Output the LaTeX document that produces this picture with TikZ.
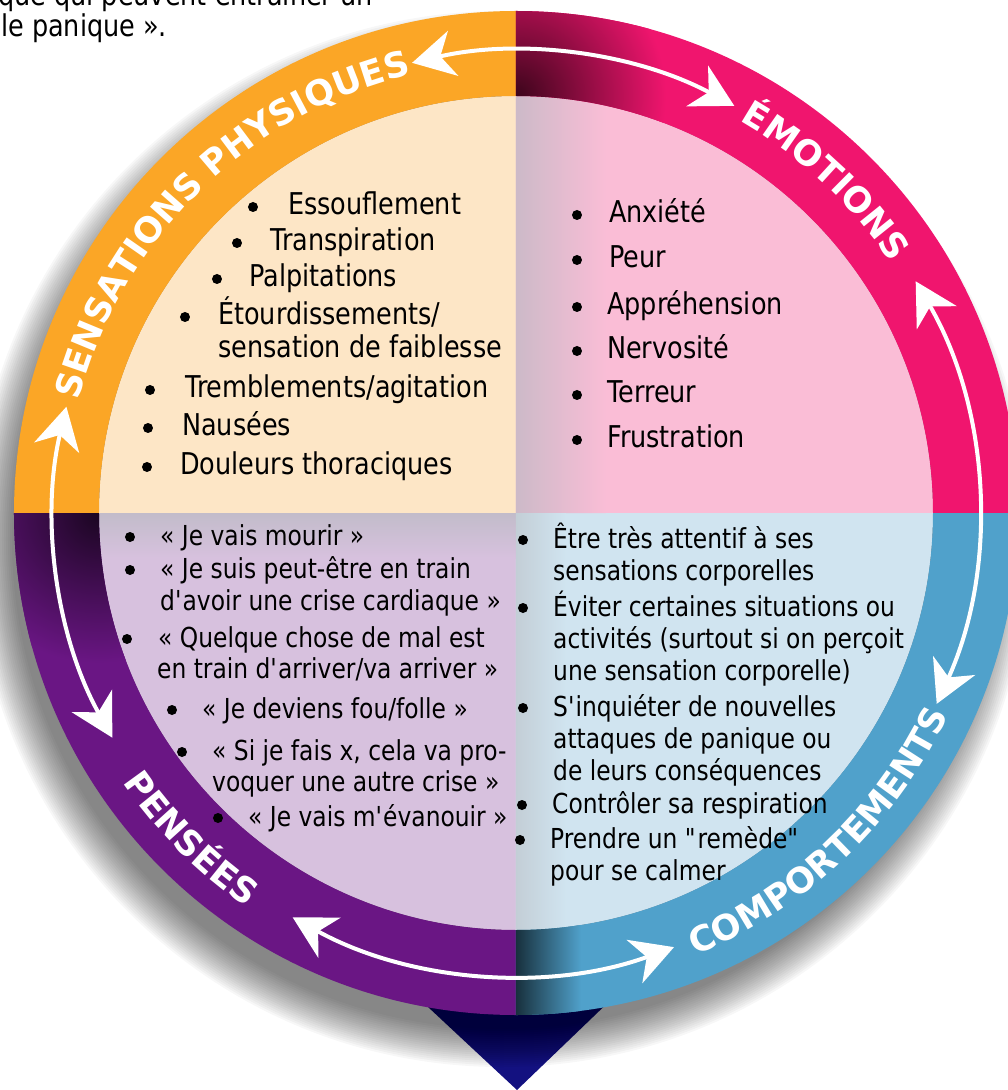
\documentclass[tikz,border=0pt]{standalone}
\usepackage{fontspec}
\setmainfont{DejaVu Sans}[FakeStretch=0.85]
\newfontfamily\ringfont{DejaVu Sans}
\usetikzlibrary{arrows.meta, decorations.text}

\definecolor{ringS}{RGB}{251,166,38}
\definecolor{fillS}{RGB}{253,230,198}
\definecolor{ringE}{RGB}{240,21,110}
\definecolor{fillE}{RGB}{250,189,214}
\definecolor{ringP}{RGB}{106,22,132}
\definecolor{fillP}{RGB}{215,193,222}
\definecolor{ringC}{RGB}{80,161,203}
\definecolor{fillC}{RGB}{208,228,240}
\definecolor{navy}{RGB}{19,17,128}
\definecolor{shE}{RGB}{204,186,200}
\definecolor{shP}{RGB}{194,188,202}
\definecolor{shC}{RGB}{195,206,214}

% one piece of the ring, and its clip
\newcommand{\anneau}[3]{\fill[#1] (#2:502pt) arc[start angle=#2, end angle=#3, radius=502pt] -- (#3:417pt) arc[start angle=#3, end angle=#2, radius=417pt] -- cycle;}
\newcommand{\clipanneau}[2]{\clip (#1:502pt) arc[start angle=#1, end angle=#2, radius=502pt] -- (#2:417pt) arc[start angle=#2, end angle=#1, radius=417pt] -- cycle;}
% one quarter of the inner disc, and its clip
\newcommand{\quartier}[3]{\fill[#1] (0,0) -- (#2:417pt) arc[start angle=#2, end angle=#3, radius=417pt] -- cycle;}
\newcommand{\clipquartier}[2]{\clip (0,0) -- (#1:417pt) arc[start angle=#1, end angle=#2, radius=417pt] -- cycle;}
% bullet and first line of an entry
\newcommand{\puce}[6][bigtxt]{\fill (#3,#4) circle (5pt); \node[#1] (#2) at (#5,#4+8) {#6};}
\newcommand{\ap}{\textquotesingle}
\newcommand{\dq}{\textquotedbl}
\newcommand{\ringfmt}{\ringfont\bfseries\fontsize{35pt}{35pt}\selectfont}

\tikzset{
  bigtxt/.style={inner sep=0pt, anchor=base west, font=\fontsize{30pt}{36pt}\selectfont},
  smalltxt/.style={inner sep=0pt, anchor=base west, font=\fontsize{27.5pt}{33pt}\selectfont},
  fleche/.style={draw=white, line width=4pt, >={Stealth[length=42pt, width=46pt, inset=13pt]}, <->},
}

\begin{document}
\begin{tikzpicture}[x=1pt, y=1pt]
\useasboundingbox (-516,-577) rectangle (492,513);

% pointer under the wheel
\fill[navy] (-103,-480) -- (102,-480) -- (1,-577) -- cycle;

% soft shadow towards the lower left
\foreach \k in {0,...,19}
  \fill[black, opacity=0.03] (-14,-26) circle[radius={490pt+2pt*\k}];

% inner quarters
\quartier{fillS}{90}{180}
\quartier{fillE}{0}{90}
\quartier{fillP}{180}{270}
\quartier{fillC}{270}{360}
\begin{scope}
  \clipquartier{0}{90}
  \shade[left color=shE, right color=fillE] (0,0) rectangle (90,417);
\end{scope}
\begin{scope}
  \clipquartier{180}{270}
  \shade[top color=shP, bottom color=fillP] (-417,0) rectangle (0,-45);
\end{scope}
\begin{scope}
  \clipquartier{270}{360}
  \shade[left color=shC, right color=fillC] (0,0) rectangle (50,-417);
\end{scope}

% the ring
\anneau{ringS}{90}{180}
\anneau{ringE}{0}{90}
\anneau{ringP}{180}{270}
\anneau{ringC}{270}{360}
\begin{scope}
  \clipanneau{0}{90}
  \shade[inner color=ringE!25!black, outer color=ringE] (0,417) circle (150pt);
\end{scope}
\begin{scope}
  \clipanneau{180}{270}
  \shade[inner color=ringP!25!black, outer color=ringP] (-417,0) circle (150pt);
\end{scope}
\begin{scope}
  \clipanneau{270}{360}
  \shade[left color=ringC!30!black, right color=ringC] (0,-505) rectangle (65,-400);
\end{scope}

% entries, in page pixels
\begin{scope}[shift={(-516,513)}, yscale=-1]
  \node[bigtxt, anchor=base east] (intro1) at (373,6) {que qui peuvent entraîner un};
  \node[bigtxt] (intro2) at (1,37) {le panique~».};

  % sensations physiques
  \puce{sp1}{253}{207}{288}{Essouflement}
  \puce{sp2}{237}{243}{270}{Transpiration}
  \puce{sp3}{217}{279}{249}{Palpitations}
  \puce{sp4}{185}{317}{218}{Étourdissements/}
  \node[bigtxt] (sp4b) at (218,358) {sensation de faiblesse};
  \puce{sp5}{150}{390}{185}{Tremblements/agitation}
  \puce{sp6}{148}{428}{182}{Nausées}
  \puce{sp7}{147}{467}{180}{Douleurs thoraciques}

  % emotions
  \puce{em1}{577}{215}{609}{Anxiété}
  \puce{em2}{577}{260}{609}{Peur}
  \puce{em3}{577}{307}{607}{Appréhension}
  \puce{em4}{577}{351}{607}{Nervosité}
  \puce{em5}{577}{395}{607}{Terreur}
  \puce{em6}{577}{440}{607}{Frustration}

  % pensees
  \puce[smalltxt]{pe1}{130}{537}{160}{«~Je vais mourir~»}
  \puce[smalltxt]{pe2}{130}{570}{160}{«~Je suis peut-être en train}
  \node[smalltxt] (pe2b) at (160,610) {d\ap avoir une crise cardiaque~»};
  \puce[smalltxt]{pe3}{127}{639}{158}{«~Quelque chose de mal est}
  \node[smalltxt] (pe3b) at (157,678) {en train d\ap arriver/va arriver~»};
  \puce[smalltxt]{pe4}{172}{710}{202}{«~Je deviens fou/folle~»}
  \puce[smalltxt]{pe5}{182}{752}{212}{«~Si je fais x, cela va pro-}
  \node[smalltxt] (pe5b) at (212,791) {voquer une autre crise~»};
  \puce[smalltxt]{pe6}{218}{818}{248}{«~Je vais m\ap évanouir~»}

  % comportements
  \puce[smalltxt]{co1}{523}{540}{553}{Être très attentif à ses}
  \node[smalltxt] (co1b) at (553,580) {sensations corporelles};
  \puce[smalltxt]{co2}{523}{608}{553}{Éviter certaines situations ou}
  \node[smalltxt] (co2b) at (553,648) {activités (surtout si on perçoit};
  \node[smalltxt] (co2c) at (553,680) {une sensation corporelle)};
  \puce[smalltxt]{co3}{523}{708}{553}{S\ap inquiéter de nouvelles}
  \node[smalltxt] (co3b) at (553,748) {attaques de panique ou};
  \node[smalltxt] (co3c) at (553,780) {de leurs conséquences};
  \puce[smalltxt]{co4}{522}{805}{552}{Contrôler sa respiration}
  \puce[smalltxt]{co5}{520}{840}{550}{Prendre un \dq remède\dq}
  \node[smalltxt] (co5b) at (550,880) {pour se calmer};
\end{scope}

% arrows between the sectors
\draw[fleche] (61.8:462pt) arc[start angle=61.8, end angle=103, radius=462pt];
\draw[fleche] (30.1:462pt) arc[start angle=30.1, end angle=-24.4, radius=462pt];
\draw[fleche] (166.7:462pt) arc[start angle=166.7, end angle=209.1, radius=462pt];
\draw[fleche] (241.1:462pt) arc[start angle=241.1, end angle=290, radius=462pt];

% sector titles
\path[decorate, decoration={text along path, text align=center, text color=white,
  text={|\ringfmt|SENSATIONS PHYSIQUES}}] (180:451pt) arc[start angle=180, end angle=89, radius=451pt];
\path[decorate, decoration={text along path, text align=center, text color=white,
  text={|\ringfmt|ÉMOTIONS}}] (92:451pt) arc[start angle=92, end angle=2, radius=451pt];
\path[decorate, decoration={text along path, text align=center, text color=white,
  text={|\ringfmt|COMPORTEMENTS}}] (-91.5:477pt) arc[start angle=-91.5, end angle=-1.5, radius=477pt];
\path[decorate, decoration={text along path, text align=center, text color=white,
  text={|\ringfmt|PENSÉES}}] (180:477pt) arc[start angle=180, end angle=270, radius=477pt];
\end{tikzpicture}
\end{document}
